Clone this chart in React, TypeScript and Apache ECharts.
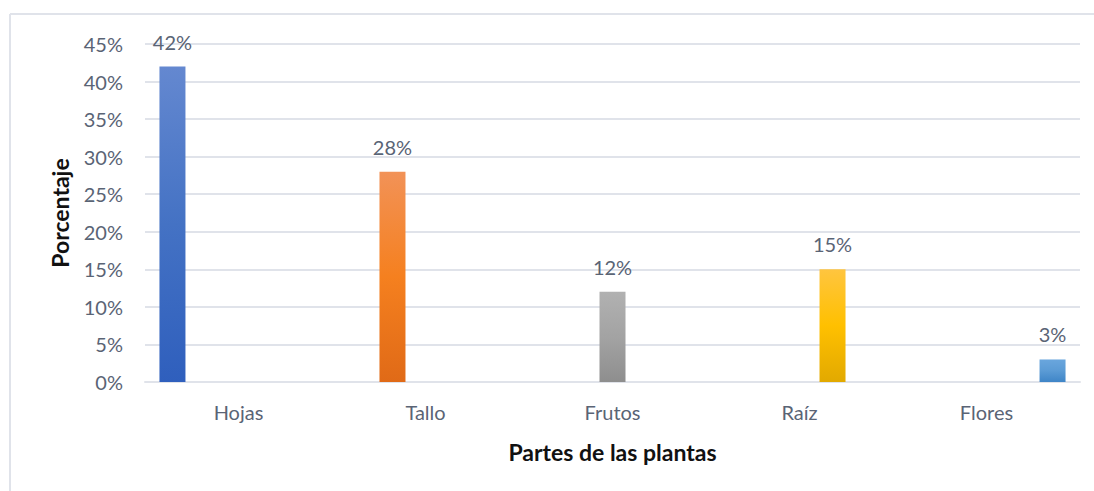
import React, { useEffect, useRef } from "react";
import * as echarts from "echarts";

const categories = ["Hojas", "Tallo", "Frutos", "Raíz", "Flores"];
const hojas = [0.42, null, null, null, null];
const tallo = [null, 0.28, null, null, null];
const frutos = [null, null, 0.12, null, null];
const raiz = [null, null, null, 0.15, null];
const flores = [null, null, null, null, 0.03];
const yTicks = { min: 0, max: 0.45, interval: 0.05 };

const TEXT = "#5a6475";
const FONT = "Lato, 'Open Sans', sans-serif";

function grad(top: string, mid: string, bottom: string) {
  return new echarts.graphic.LinearGradient(0, 0, 0, 1, [
    { offset: 0, color: top },
    { offset: 0.5, color: mid },
    { offset: 1, color: bottom },
  ]);
}

export default function App() {
  const ref = useRef<HTMLDivElement>(null);
  useEffect(() => {
    document.body.style.margin = "0";
    const chart = echarts.init(ref.current!, undefined, { renderer: "svg" });
    const mk = (name: string, data: (number | null)[], color: any) => ({
      name,
      type: "bar",
      data,
      barWidth: 26,
      barGap: "27%",
      itemStyle: { color },
      label: {
        show: true,
        position: "top",
        distance: 15,
        color: TEXT,
        fontFamily: FONT,
        fontSize: 20,
        formatter: (p: any) => Math.round(p.value * 100) + "%",
      },
    });
    chart.setOption({
      animation: false,
      backgroundColor: "#ffffff",
      grid: { left: 145, right: 14, top: 44, bottom: 109 },
      graphic: [
        { type: "line", shape: { x1: 10, y1: 14, x2: 1094, y2: 14 }, style: { stroke: "#e0e3ea", lineWidth: 2 } },
        { type: "line", shape: { x1: 10, y1: 14, x2: 10, y2: 491 }, style: { stroke: "#e0e3ea", lineWidth: 2 } },
      ],
      xAxis: {
        type: "category",
        data: categories,
        name: "Partes de las plantas",
        nameLocation: "middle",
        nameGap: 58,
        nameTextStyle: { color: "#111", fontWeight: "bold", fontSize: 23, fontFamily: FONT },
        axisLine: { show: true, lineStyle: { color: "#e0e3ea", width: 2 } },
        axisTick: { show: false },
        axisLabel: { color: TEXT, fontSize: 20, fontFamily: FONT, margin: 20 },
      },
      yAxis: {
        type: "value",
        min: yTicks.min,
        max: yTicks.max,
        interval: yTicks.interval,
        name: "Porcentaje",
        nameLocation: "middle",
        nameGap: 74,
        nameTextStyle: { color: "#111", fontWeight: "bold", fontSize: 23, fontFamily: FONT },
        axisLine: { show: false },
        axisTick: { show: false },
        splitLine: { lineStyle: { color: "#e0e3ea", width: 2 } },
        axisLabel: {
          color: TEXT,
          fontSize: 20,
          fontFamily: FONT,
          margin: 22,
          formatter: (v: number) => Math.round(v * 100) + "%",
        },
      },
      series: [
        mk("Hojas", hojas, grad("#6488d0", "#4472c4", "#2f5fbd")),
        mk("Tallo", tallo, grad("#f29257", "#f5801f", "#e06a17")),
        mk("Frutos", frutos, grad("#b1b1b1", "#a3a3a3", "#8e8e8e")),
        mk("Raíz", raiz, grad("#ffc53f", "#ffc000", "#e2a900")),
        mk("Flores", flores, grad("#6aa6dd", "#5b9bd5", "#3f85c7")),
      ],
    });
    return () => chart.dispose();
  }, []);
  return <div ref={ref} style={{ position: "fixed", left: 0, top: 0, width: 1094, height: 491 }} />;
}
